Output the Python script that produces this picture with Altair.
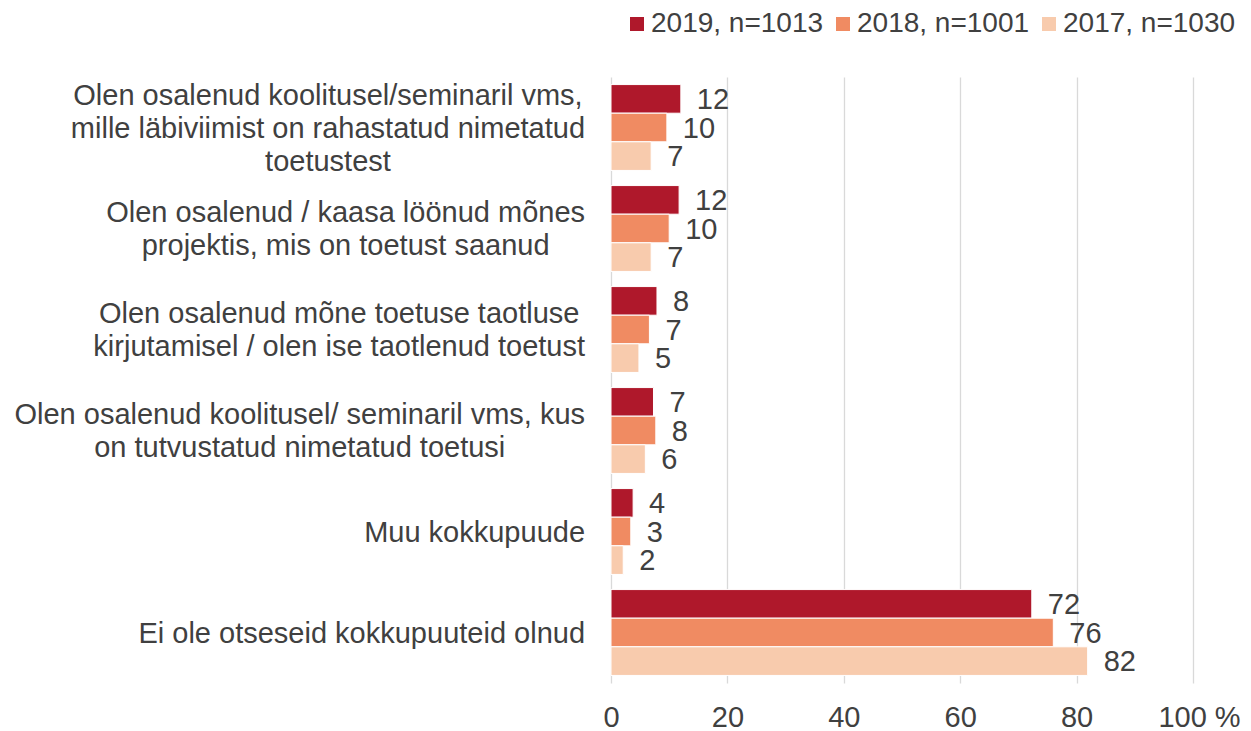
import altair as alt
import pandas as pd

# ---------------- data ----------------
categories = [
    "Olen osalenud koolitusel/seminaril vms,\nmille läbiviimist on rahastatud nimetatud\ntoetustest",
    "Olen osalenud / kaasa löönud mõnes\nprojektis, mis on toetust saanud",
    "Olen osalenud mõne toetuse taotluse \nkirjutamisel / olen ise taotlenud toetust",
    "Olen osalenud koolitusel/ seminaril vms, kus\non tutvustatud nimetatud toetusi",
    "Muu kokkupuude",
    "Ei ole otseseid kokkupuuteid olnud",
]
series = ["2019, n=1013", "2018, n=1001", "2017, n=1030"]
values_2019 = [12.0, 11.7, 7.9, 7.3, 3.8, 72.3]
values_2018 = [9.6, 10.0, 6.6, 7.7, 3.4, 76.0]
values_2017 = [6.9, 6.9, 4.8, 5.9, 2.1, 81.9]
colors = ["#AF182B", "#F08B62", "#F8CBAD"]

# ---------------- layout constants ----------------
WIDTH = 582
HEIGHT = 606
FONT = "Liberation Sans"
FS = 29
LINE_H = 33
TEXT_COLOR = "#404040"
LABEL_GAP = 26  # px between label block right edge and plot

# Arial / Liberation Sans advance widths (per 1000 em)
ADV = {
    " ": 278, ",": 278, "/": 278, "a": 556, "b": 556, "c": 500, "d": 556, "e": 556,
    "f": 278, "g": 556, "h": 556, "i": 222, "j": 222, "k": 500, "l": 222, "m": 833,
    "n": 556, "o": 556, "p": 556, "q": 556, "r": 333, "s": 500, "t": 278, "u": 556,
    "v": 500, "w": 722, "x": 500, "y": 500, "z": 500, "O": 778, "M": 833, "E": 667,
    "ä": 556, "ö": 556, "õ": 556,
}


def text_width(s):
    return sum(ADV.get(ch, 556) for ch in s) * FS / 1000.0


px_per_unit = WIDTH / 100.0

rows = []
for ser, vals in zip(series, [values_2019, values_2018, values_2017]):
    for cat, v in zip(categories, vals):
        rows.append({"category": cat, "series": ser, "value": v})
df = pd.DataFrame(rows)

lab_rows = []
for cat in categories:
    lines = cat.split("\n")
    w = max(text_width(line) for line in lines)
    lab_rows.append({
        "category": cat,
        "nlines": len(lines),
        "anchor": -(LABEL_GAP + w / 2.0) / px_per_unit,
    })
df_lab = pd.DataFrame(lab_rows)

y_enc = alt.Y(
    "category:N",
    sort=categories,
    scale=alt.Scale(paddingInner=0.15, paddingOuter=0.075),
    axis=None,
)
x_scale = alt.Scale(domain=[0, 100], nice=False, zero=True)
yoff = alt.YOffset("series:N", sort=series, scale=alt.Scale(paddingInner=0, paddingOuter=0))

base = alt.Chart(df)

bars = base.mark_bar(stroke="white", strokeWidth=1).encode(
    y=y_enc,
    yOffset=yoff,
    x=alt.X(
        "value:Q",
        scale=x_scale,
        title=None,
        axis=alt.Axis(
            values=[0, 20, 40, 60, 80, 100],
            grid=True,
            gridColor="#D9D9D9",
            gridWidth=1.3,
            domain=False,
            ticks=False,
            labelFlush=False,
            labelFont=FONT,
            labelFontSize=FS,
            labelColor=TEXT_COLOR,
            labelPadding=20,
            labelOffset={"condition": {"test": "datum.value == 100", "value": 6}, "value": 0},
            labelExpr="datum.value == 100 ? '100 %' : datum.label",
        ),
    ),
    color=alt.Color(
        "series:N",
        sort=series,
        scale=alt.Scale(domain=series, range=colors),
        legend=alt.Legend(
            title=None,
            orient="none",
            direction="horizontal",
            legendX=12,
            legendY=-67,
            symbolType="square",
            symbolSize=196,
            symbolStrokeWidth=0,
            labelFont=FONT,
            labelFontSize=28,
            labelColor=TEXT_COLOR,
            labelOffset=0,
            columnPadding=5,
            labelLimit=400,
        ),
    ),
)

value_labels = base.mark_text(
    align="left", baseline="middle", dx=16, dy=1, font=FONT, fontSize=FS, color=TEXT_COLOR
).encode(
    y=y_enc,
    yOffset=yoff,
    x=alt.X("value:Q", scale=x_scale),
    text=alt.Text("value:Q", format=".0f"),
)

label_layers = []
for n in (1, 2, 3):
    label_layers.append(
        alt.Chart(df_lab)
        .transform_filter(alt.datum.nlines == n)
        .mark_text(
            align="center",
            baseline="middle",
            lineBreak="\n",
            lineHeight=LINE_H,
            dy=1 - (n - 1) * LINE_H / 2.0,
            font=FONT,
            fontSize=FS,
            color=TEXT_COLOR,
            clip=False,
        )
        .encode(
            y=y_enc,
            x=alt.X("anchor:Q", scale=x_scale),
            text="category:N",
        )
    )

chart = (
    alt.layer(bars, value_labels, *label_layers)
    .properties(
        width=WIDTH,
        height=HEIGHT,
        autosize=alt.AutoSizeParams(type="none"),
        padding={"left": 603, "top": 69, "right": 50, "bottom": 48},
    )
    .configure(background="white")
    .configure_view(stroke=None)
)

chart.save("out.html", embed_options={"renderer": "svg", "actions": False})
